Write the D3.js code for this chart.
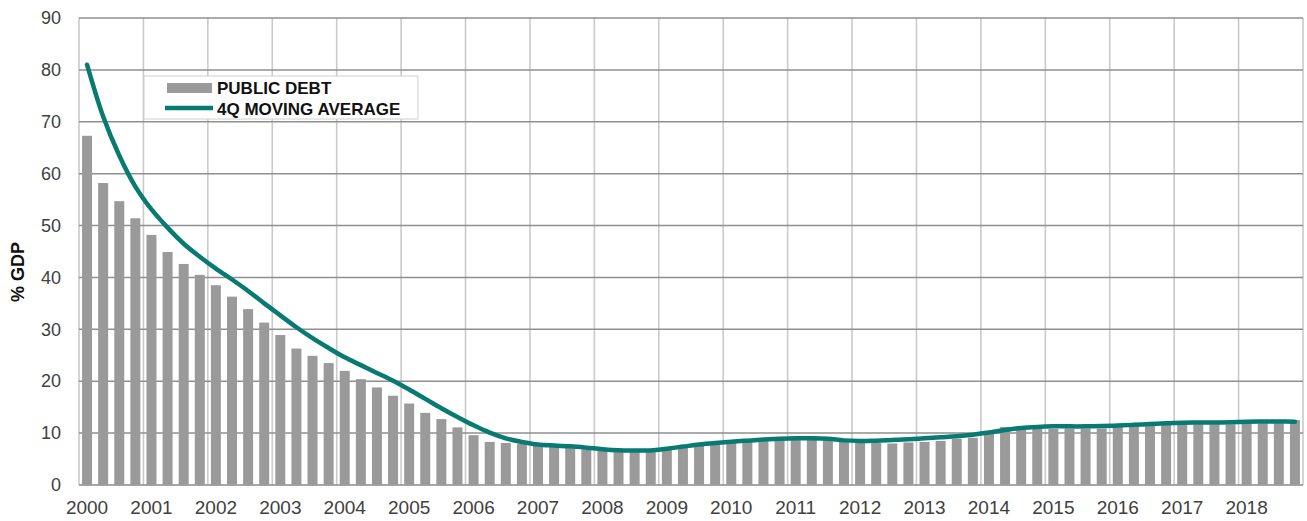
<!DOCTYPE html>
<html>
<head>
<meta charset="utf-8">
<script src="https://cdn.jsdelivr.net/npm/d3@7"></script>
<style>
  body { margin: 0; background: #fff; }
  svg { display: block; font-family: "Liberation Sans", Arial, sans-serif; }
</style>
</head>
<body>
<script>
// quarterly data, 2000Q1 .. 2018Q4
var years = d3.range(2000, 2019);
var quarters = [];
years.forEach(function(y){ for (var q = 1; q <= 4; q++) quarters.push(y + 'Q' + q); });

var publicDebt = [
  67.3, 58.2, 54.7, 51.4, 48.2, 44.9, 42.6, 40.5, 38.5, 36.3, 33.9, 31.3,
  28.9, 26.3, 24.9, 23.5, 22.0, 20.4, 18.8, 17.2, 15.7, 13.9, 12.7, 11.1,
  9.6, 8.3, 8.1, 7.9, 7.7, 7.6, 7.4, 7.1, 6.7, 6.5, 6.4, 6.5,
  6.8, 7.4, 7.8, 8.0, 8.2, 8.3, 8.6, 8.7, 8.7, 8.8, 8.6, 8.4,
  8.2, 8.1, 8.0, 8.2, 8.3, 8.5, 8.9, 9.1, 10.4, 11.2, 11.2, 10.8,
  10.8, 10.9, 10.9, 10.9, 11.2, 11.4, 11.4, 11.6, 11.7, 11.7, 11.7, 11.7,
  11.9, 11.9, 11.9, 12.5
];

var movingAvg = [
  81.0, 71.0, 63.5, 57.5, 53.1, 49.6, 46.5, 44.0, 41.7, 39.6, 37.4, 35.0,
  32.7, 30.4, 28.3, 26.4, 24.6, 23.1, 21.6, 20.1, 18.4, 16.6, 14.8, 13.1,
  11.5, 10.1, 9.0, 8.3, 7.8, 7.6, 7.45, 7.2, 6.9, 6.7, 6.65, 6.65,
  7.0, 7.4, 7.8, 8.1, 8.35, 8.55, 8.75, 8.9, 9.0, 9.0, 8.9, 8.6,
  8.5, 8.55, 8.65, 8.8, 9.0, 9.2, 9.4, 9.7, 10.1, 10.6, 11.0, 11.2,
  11.3, 11.3, 11.3, 11.35, 11.45, 11.6, 11.75, 11.9, 12.0, 12.05, 12.05, 12.1,
  12.2, 12.25, 12.25, 12.2
];

var yTicks = [0, 10, 20, 30, 40, 50, 60, 70, 80, 90];

var W = 1307, H = 521;
var mLeft = 79, mRight = 1303, mTop = 18, mBottom = 485;

var svg = d3.select('body').append('svg').attr('width', W).attr('height', H);

var x = d3.scaleBand().domain(d3.range(quarters.length))
  .range([mLeft, mRight]).paddingInner(0.38).paddingOuter(0.19);
var y = d3.scaleLinear().domain([0, 90]).range([mBottom, mTop]);
var step = x.step();

// vertical gridlines at each year boundary
var bounds = d3.range(0, quarters.length + 1, 4);
svg.append('g').selectAll('line').data(bounds).enter().append('line')
  .attr('x1', function(d){ return mLeft + d * step; })
  .attr('x2', function(d){ return mLeft + d * step; })
  .attr('y1', mTop).attr('y2', mBottom)
  .attr('stroke', '#cacaca').attr('stroke-width', 1.6);

// horizontal gridlines
svg.append('g').selectAll('line').data(yTicks).enter().append('line')
  .attr('x1', mLeft).attr('x2', mRight)
  .attr('y1', function(d){ return y(d); }).attr('y2', function(d){ return y(d); })
  .attr('stroke', function(d){ return d === 0 ? '#8a8a8a' : '#8f8f8f'; })
  .attr('stroke-width', 1.5);

// bars
svg.append('g').selectAll('rect').data(publicDebt).enter().append('rect')
  .attr('x', function(d, i){ return x(i); })
  .attr('width', x.bandwidth())
  .attr('y', function(d){ return y(d); })
  .attr('height', function(d){ return y(0) - y(d); })
  .attr('fill', '#9a9a9a');

// moving average line (smoothed like the spreadsheet original)
var line = d3.line()
  .x(function(d, i){ return x(i) + x.bandwidth() / 2; })
  .y(function(d){ return y(d); })
  .curve(d3.curveCatmullRom.alpha(0.5));
svg.append('path').datum(movingAvg)
  .attr('d', line)
  .attr('fill', 'none')
  .attr('stroke', '#077a72')
  .attr('stroke-width', 4.5)
  .attr('stroke-linecap', 'round');

// y axis labels
var yAxis = d3.axisLeft(y).tickValues(yTicks).tickSize(0).tickPadding(18);
var gy = svg.append('g').attr('transform', 'translate(' + mLeft + ',0)').call(yAxis);
gy.select('.domain').remove();
gy.selectAll('text').attr('font-size', 18).attr('fill', '#404040')
  .attr('font-family', '"Liberation Sans", Arial, sans-serif');

// x axis labels, one per year on the first quarter
var xAxis = d3.axisBottom(x)
  .tickValues(d3.range(0, quarters.length, 4))
  .tickFormat(function(i){ return quarters[i].slice(0, 4); })
  .tickSize(0).tickPadding(16);
var gx = svg.append('g').attr('transform', 'translate(0,' + mBottom + ')').call(xAxis);
gx.select('.domain').remove();
gx.selectAll('text').attr('font-size', 19).attr('fill', '#404040')
  .attr('font-family', '"Liberation Sans", Arial, sans-serif');

// y title
svg.append('text')
  .attr('transform', 'translate(24,272) rotate(-90)')
  .attr('text-anchor', 'middle')
  .attr('font-size', 18).attr('font-weight', 'bold').attr('fill', '#111')
  .text('% GDP');

// legend
var lg = svg.append('g');
lg.append('rect').attr('x', 144).attr('y', 76).attr('width', 274).attr('height', 43)
  .attr('fill', '#fff').attr('stroke', '#d0d0d0').attr('stroke-width', 1);
lg.append('rect').attr('x', 167).attr('y', 83).attr('width', 45).attr('height', 10)
  .attr('fill', '#9a9a9a');
lg.append('line').attr('x1', 165).attr('x2', 213).attr('y1', 108).attr('y2', 108)
  .attr('stroke', '#077a72').attr('stroke-width', 4.5);
lg.append('text').attr('x', 217).attr('y', 94)
  .attr('font-size', 17).attr('font-weight', 'bold').attr('fill', '#111')
  .text('PUBLIC DEBT');
lg.append('text').attr('x', 217).attr('y', 115)
  .attr('font-size', 17).attr('font-weight', 'bold').attr('fill', '#111')
  .text('4Q MOVING AVERAGE');
</script>
</body>
</html>
